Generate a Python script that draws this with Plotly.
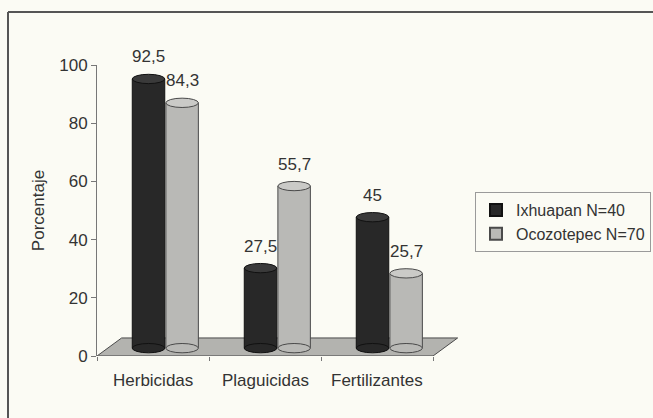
import plotly.graph_objects as go

categories = ["Herbicidas", "Plaguicidas", "Fertilizantes"]
series_names = ["Ixhuapan N=40", "Ocozotepec N=70"]
ixhuapan = [92.5, 27.5, 45]
ocozotepec = [84.3, 55.7, 25.7]
y_ticks = [0, 20, 40, 60, 80, 100]

W, H = 653, 418
L, R, T, B = 97, 0, 65, 62
CAT_PX = 112
XR = [-0.5, -0.5 + (W - L - R) / CAT_PX]
YR = [0, 100]
pw = W - L - R
ph = H - T - B
NCAT = len(categories)

def px_x(px):
    return (px - L) / pw

def px_y(py):
    return (H - B - py) / ph

# 3D depth in data units
DX = 0.22
DY = 6.2
BASE_X = DX / 2
BASE_Y = DY / 2 - 0.4
BW = 0.29
OFFS = [-0.15, 0.15]
ELL = 1.6
XEND = NCAT - 0.5

dark = "#282828"
dark_top = "#3a3a3a"
light = "#b9b9b6"
light_top = "#cacac7"
colors = [dark, light]
tops = [dark_top, light_top]
edges = ["#111111", "#4a4a4a"]

fig = go.Figure()

shapes = []
# floor
shapes.append(dict(type="path", xref="x", yref="y",
                   path=f"M -0.5 0 L {XEND} 0 L {XEND+DX} {DY} L {-0.5+DX} {DY} Z",
                   fillcolor="#b3b3af", line=dict(color="#4a4a4a", width=1), layer="below"))

ann = []
for s, vals in enumerate([ixhuapan, ocozotepec]):
    xs = [i + BASE_X + OFFS[s] for i in range(NCAT)]
    fig.add_trace(go.Bar(
        x=xs, y=vals, base=[BASE_Y] * len(vals), width=BW,
        name=series_names[s],
        marker=dict(color=colors[s], line=dict(color=edges[s], width=1)),
        hoverinfo="skip",
    ))
    for xc, v in zip(xs, vals):
        top = BASE_Y + v
        shapes.append(dict(type="circle", xref="x", yref="y",
                           x0=xc - BW / 2, x1=xc + BW / 2, y0=BASE_Y - ELL, y1=BASE_Y + ELL,
                           fillcolor=colors[s], line=dict(color=edges[s], width=1), layer="above"))
        shapes.append(dict(type="circle", xref="x", yref="y",
                           x0=xc - BW / 2, x1=xc + BW / 2, y0=top - ELL, y1=top + ELL,
                           fillcolor=tops[s], line=dict(color=edges[s], width=1), layer="above"))
        ann.append(dict(x=xc, y=top, xref="x", yref="y", text=f"{v:g}".replace(".", ","),
                        showarrow=False, yshift=22, yanchor="middle",
                        font=dict(size=17, color="#333333")))

# category labels
for i, c in enumerate(categories):
    ann.append(dict(x=i, y=0, xref="x", yref="y", text=c, showarrow=False,
                    yanchor="top", yshift=-13, font=dict(size=17, color="#333333")))

# outer frame lines
shapes.append(dict(type="line", xref="paper", yref="paper",
                   x0=px_x(8), x1=px_x(W + 5), y0=px_y(12), y1=px_y(12),
                   line=dict(color="#555555", width=2)))
shapes.append(dict(type="line", xref="paper", yref="paper",
                   x0=px_x(8), x1=px_x(8), y0=px_y(12), y1=px_y(H + 5),
                   line=dict(color="#555555", width=2)))
# x axis front line
shapes.append(dict(type="line", xref="x", yref="y", x0=-0.5, x1=XEND, y0=0, y1=0,
                   line=dict(color="#777777", width=1)))

fig.update_layout(
    width=W, height=H, autosize=False,
    margin=dict(l=L, r=R, t=T, b=B),
    paper_bgcolor="#fbfbf4",
    plot_bgcolor="rgba(0,0,0,0)",
    font=dict(family="Liberation Sans, Arial, sans-serif", size=17, color="#333333"),
    barmode="overlay",
    showlegend=True,
    legend=dict(x=px_x(651), y=px_y(192), xanchor="right", yanchor="top",
                bgcolor="rgba(0,0,0,0)", bordercolor="#9a9a9a", borderwidth=1,
                font=dict(size=16, color="#333333"), tracegroupgap=0,
                itemwidth=30, itemsizing="constant"),
    shapes=shapes,
    annotations=ann,
    xaxis=dict(range=XR, tickmode="array",
               tickvals=[i - 0.5 for i in range(NCAT + 1)],
               ticktext=["" for _ in range(NCAT + 1)],
               showgrid=False, zeroline=False, showline=False,
               ticks="outside", ticklen=4, tickcolor="#777777"),
    yaxis=dict(range=YR, tickvals=y_ticks, showgrid=False, zeroline=False,
               showline=True, linecolor="#777777", linewidth=1,
               ticks="outside", ticklen=5, tickcolor="#777777",
               title=dict(text="Porcentaje", standoff=10, font=dict(size=17))),
)

fig.write_html("out.html",
               config={"displayModeBar": False, "responsive": False},
               post_script="document.documentElement.style.overflow='hidden';"
                           "document.body.style.margin='0';document.body.style.overflow='hidden';"
                           "document.body.style.background='#fbfbf4';")
